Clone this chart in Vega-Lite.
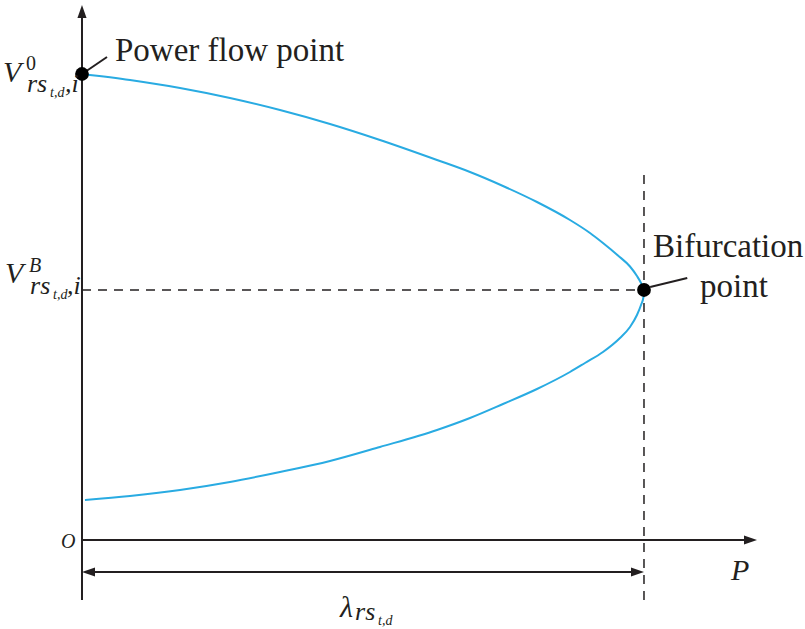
{
  "$schema": "https://vega.github.io/schema/vega-lite/v6.json",
  "width": 805,
  "height": 629,
  "autosize": {"type": "none"},
  "padding": 0,
  "background": "white",
  "config": {"view": {"stroke": null}},
  "datasets": {
    "curve": [
      {"i": 0, "x": 0, "y": 1.0},
      {"i": 1, "x": 0.0854, "y": 0.9871},
      {"i": 2, "x": 0.1744, "y": 0.9700},
      {"i": 3, "x": 0.2633, "y": 0.9485},
      {"i": 4, "x": 0.3523, "y": 0.9227},
      {"i": 5, "x": 0.4413, "y": 0.8927},
      {"i": 6, "x": 0.5302, "y": 0.8584},
      {"i": 7, "x": 0.6317, "y": 0.8155},
      {"i": 8, "x": 0.6904, "y": 0.7897},
      {"i": 9, "x": 0.7491, "y": 0.7597},
      {"i": 10, "x": 0.8096, "y": 0.7253},
      {"i": 11, "x": 0.8683, "y": 0.6867},
      {"i": 12, "x": 0.9039, "y": 0.6588},
      {"i": 13, "x": 0.9270, "y": 0.6373},
      {"i": 14, "x": 0.9537, "y": 0.6105},
      {"i": 15, "x": 0.9751, "y": 0.5869},
      {"i": 16, "x": 0.9875, "y": 0.5665},
      {"i": 17, "x": 0.9947, "y": 0.5515},
      {"i": 18, "x": 1.0, "y": 0.5365},
      {"i": 19, "x": 0.9991, "y": 0.5215},
      {"i": 20, "x": 0.9947, "y": 0.5043},
      {"i": 21, "x": 0.9875, "y": 0.4828},
      {"i": 22, "x": 0.9751, "y": 0.4571},
      {"i": 23, "x": 0.9573, "y": 0.4335},
      {"i": 24, "x": 0.9270, "y": 0.4034},
      {"i": 25, "x": 0.8950, "y": 0.3798},
      {"i": 26, "x": 0.8683, "y": 0.3605},
      {"i": 27, "x": 0.8096, "y": 0.3240},
      {"i": 28, "x": 0.7491, "y": 0.2918},
      {"i": 29, "x": 0.6904, "y": 0.2618},
      {"i": 30, "x": 0.6317, "y": 0.2361},
      {"i": 31, "x": 0.5302, "y": 0.1996},
      {"i": 32, "x": 0.4413, "y": 0.1695},
      {"i": 33, "x": 0.3523, "y": 0.1459},
      {"i": 34, "x": 0.2633, "y": 0.1245},
      {"i": 35, "x": 0.1744, "y": 0.1073},
      {"i": 36, "x": 0.0854, "y": 0.0944},
      {"i": 37, "x": 0.0053, "y": 0.0858}
    ],
    "solid": [
      {"x": 0, "y": -0.1288, "x2": 0, "y2": 1.133},
      {"x": 0, "y": 0, "x2": 1.19, "y2": 0},
      {"x": 0.012, "y": -0.0687, "x2": 0.988, "y2": -0.0687},
      {"x": 0.0053, "y": 1.0043, "x2": 0.0445, "y2": 1.0365},
      {"x": 1.011, "y": 0.5429, "x2": 1.077, "y2": 0.5622}
    ],
    "dashed": [
      {"x": 1, "y": -0.1288, "x2": 1, "y2": 0.794},
      {"x": 0, "y": 0.5365, "x2": 1, "y2": 0.5365}
    ],
    "arrowUp": [{"x": 0, "y": 1.148}],
    "arrowRight": [{"x": 1.2011, "y": 0}, {"x": 1.0, "y": -0.0687}],
    "arrowLeft": [{"x": 0, "y": -0.0687}],
    "dots": [{"x": 0, "y": 1.0}, {"x": 1, "y": 0.5365}],
    "bigText": [
      {"x": 0.0587, "y": 1.0279, "t": "Power flow point"},
      {"x": 1.016, "y": 0.6073, "t": "Bifurcation"},
      {"x": 1.0996, "y": 0.5215, "t": "point"}
    ],
    "symText": [
      {"x": -0.1406, "y": 0.9828, "t": "V"},
      {"x": -0.1370, "y": 0.5515, "t": "V"},
      {"x": 1.1548, "y": -0.0858, "t": "P"},
      {"x": 0.4591, "y": -0.1652, "t": "λ"}
    ],
    "supUpright": [{"x": -0.0996, "y": 1.0086, "t": "0"}],
    "supItalic": [{"x": -0.0943, "y": 0.5751, "t": "B"}],
    "subText": [
      {"x": -0.0979, "y": 0.9614, "t": "rs"},
      {"x": -0.0302, "y": 0.9614, "t": ",i"},
      {"x": -0.0925, "y": 0.5279, "t": "rs"},
      {"x": -0.0266, "y": 0.5279, "t": ",i"},
      {"x": 0.4858, "y": -0.1717, "t": "rs"}
    ],
    "subSubText": [
      {"x": -0.0569, "y": 0.9506, "t": "t,d"},
      {"x": -0.0516, "y": 0.5172, "t": "t,d"},
      {"x": 0.5267, "y": -0.1824, "t": "t,d"}
    ],
    "originText": [{"x": -0.0374, "y": -0.0172, "t": "O"}]
  },
  "encoding": {
    "x": {"field": "x", "type": "quantitative", "scale": {"domain": [-0.1459, 1.2865], "nice": false, "zero": false}, "axis": null},
    "y": {"field": "y", "type": "quantitative", "scale": {"domain": [-0.191, 1.1588], "nice": false, "zero": false}, "axis": null}
  },
  "layer": [
    {
      "data": {"name": "dashed"},
      "mark": {"type": "rule", "color": "#231f20", "strokeWidth": 1.5, "strokeDash": [9, 7]},
      "encoding": {"x2": {"field": "x2"}, "y2": {"field": "y2"}}
    },
    {
      "data": {"name": "curve"},
      "mark": {"type": "line", "color": "#29abe2", "strokeWidth": 2, "interpolate": "monotone", "orient": "horizontal"},
      "encoding": {"order": {"field": "i", "type": "quantitative"}}
    },
    {
      "data": {"name": "solid"},
      "mark": {"type": "rule", "color": "#231f20", "strokeWidth": 2},
      "encoding": {"x2": {"field": "x2"}, "y2": {"field": "y2"}}
    },
    {
      "data": {"name": "arrowUp"},
      "mark": {"type": "point", "shape": "M0,0L0.7,2L-0.7,2Z", "size": 169, "filled": true, "color": "#231f20", "opacity": 1, "angle": 0}
    },
    {
      "data": {"name": "arrowRight"},
      "mark": {"type": "point", "shape": "M0,0L0.7,2L-0.7,2Z", "size": 169, "filled": true, "color": "#231f20", "opacity": 1, "angle": 90}
    },
    {
      "data": {"name": "arrowLeft"},
      "mark": {"type": "point", "shape": "M0,0L0.7,2L-0.7,2Z", "size": 169, "filled": true, "color": "#231f20", "opacity": 1, "angle": 270}
    },
    {
      "data": {"name": "dots"},
      "mark": {"type": "point", "shape": "circle", "size": 190, "filled": true, "color": "#000000", "opacity": 1}
    },
    {
      "data": {"name": "bigText"},
      "mark": {"type": "text", "font": "Liberation Serif", "fontSize": 33, "align": "left", "baseline": "alphabetic", "color": "#231f20"},
      "encoding": {"text": {"field": "t"}}
    },
    {
      "data": {"name": "symText"},
      "mark": {"type": "text", "font": "Liberation Serif", "fontSize": 30, "fontStyle": "italic", "align": "left", "baseline": "alphabetic", "color": "#231f20"},
      "encoding": {"text": {"field": "t"}}
    },
    {
      "data": {"name": "supUpright"},
      "mark": {"type": "text", "font": "Liberation Serif", "fontSize": 20, "align": "left", "baseline": "alphabetic", "color": "#231f20"},
      "encoding": {"text": {"field": "t"}}
    },
    {
      "data": {"name": "supItalic"},
      "mark": {"type": "text", "font": "Liberation Serif", "fontSize": 20, "fontStyle": "italic", "align": "left", "baseline": "alphabetic", "color": "#231f20"},
      "encoding": {"text": {"field": "t"}}
    },
    {
      "data": {"name": "subText"},
      "mark": {"type": "text", "font": "Liberation Serif", "fontSize": 26, "fontStyle": "italic", "align": "left", "baseline": "alphabetic", "color": "#231f20"},
      "encoding": {"text": {"field": "t"}}
    },
    {
      "data": {"name": "subSubText"},
      "mark": {"type": "text", "font": "Liberation Serif", "fontSize": 14, "fontStyle": "italic", "align": "left", "baseline": "alphabetic", "color": "#231f20"},
      "encoding": {"text": {"field": "t"}}
    },
    {
      "data": {"name": "originText"},
      "mark": {"type": "text", "font": "Liberation Serif", "fontSize": 20, "fontStyle": "italic", "align": "left", "baseline": "alphabetic", "color": "#231f20"},
      "encoding": {"text": {"field": "t"}}
    }
  ]
}
